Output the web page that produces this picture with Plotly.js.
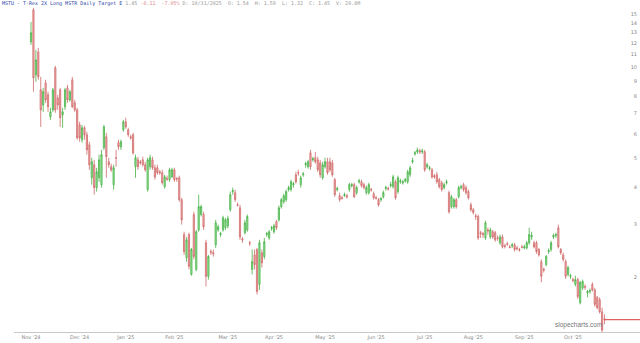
<!DOCTYPE html>
<html><head><meta charset="utf-8">
<script src="https://cdn.plot.ly/plotly-3.0.1.min.js"></script>
<style>html,body{margin:0;padding:0;background:#fff}#chart{width:640px;height:343px}</style>
</head><body><div id="chart"></div>
<script>
const opens=[12.12,15.48,9.42,11.23,8.40,7.49,8.86,8.09,6.84,7.21,
9.94,7.90,8.40,6.94,7.38,8.53,7.78,9.07,7.61,7.21,
6.43,5.74,6.29,5.96,5.52,4.29,4.74,3.98,4.29,4.07,
5.40,5.87,4.85,4.67,4.07,5.00,5.61,5.44,6.19,6.58,
6.19,5.87,5.96,4.67,4.92,4.85,4.92,4.74,3.92,4.67,
4.92,4.63,4.63,4.49,4.46,4.01,4.26,4.23,4.32,4.56,
4.26,4.29,3.63,2.78,2.33,2.78,2.05,3.24,2.13,2.88,
3.24,3.24,2.61,2.02,2.44,2.42,2.57,2.88,2.78,2.88,
2.93,2.97,3.36,3.86,3.83,3.49,3.41,2.69,2.82,2.88,
2.61,2.13,2.38,2.48,1.90,2.42,2.35,2.78,2.71,2.91,
2.84,3.07,3.11,3.44,3.57,3.63,3.92,3.92,4.07,4.39,
4.46,4.07,4.39,4.74,4.67,5.19,4.92,5.00,4.92,4.81,
4.29,4.67,4.85,4.85,4.81,4.23,3.92,3.74,3.68,3.74,
3.74,3.92,4.04,4.07,3.83,4.16,4.16,4.07,3.83,3.83,
3.92,3.80,3.68,3.63,3.63,3.71,3.95,3.95,4.04,4.01,
4.16,3.86,4.16,4.13,4.19,4.16,4.39,4.85,5.15,5.23,
5.27,5.23,5.23,4.67,4.60,4.56,4.36,4.39,4.23,4.13,
3.98,4.13,3.83,3.44,3.44,3.63,3.71,3.98,4.07,3.98,
3.86,3.49,3.36,3.21,3.19,2.82,2.80,2.71,2.88,2.73,
2.84,2.82,2.71,2.61,2.73,2.55,2.59,2.53,2.55,2.57,
2.51,2.48,2.53,2.51,2.51,2.61,2.73,2.61,2.61,2.48,
2.26,2.13,2.21,2.44,2.48,2.73,2.76,2.93,2.48,2.38,
2.26,2.05,2.02,1.97,1.90,1.97,1.65,1.85,1.87,1.78,
1.80,1.90,1.82,1.72,1.69,1.54,1.46];
const highs=[14.12,15.72,11.40,11.58,9.28,8.53,9.07,8.28,7.32,8.53,
10.09,8.09,8.53,7.32,8.53,8.73,8.40,9.28,7.78,7.32,
6.58,6.43,6.38,6.10,5.65,5.00,4.92,4.63,5.12,5.31,
6.43,6.05,5.00,4.78,4.74,5.31,5.74,5.74,6.68,6.79,
6.29,5.96,6.05,5.12,5.04,4.92,5.04,4.85,5.00,5.12,
5.04,4.74,4.74,4.56,4.56,4.39,4.36,4.63,4.63,4.63,
4.32,4.36,3.68,2.84,2.73,2.82,2.51,3.31,2.88,3.77,
3.49,3.31,2.67,2.38,2.48,2.48,3.11,3.00,2.84,3.21,
3.16,3.21,3.86,3.98,3.92,3.55,3.49,2.73,3.11,3.24,
2.65,2.48,2.48,2.51,2.67,2.48,2.71,2.84,2.88,2.97,
3.02,3.11,3.47,3.68,3.80,3.92,4.04,4.23,4.16,4.49,
4.56,4.36,4.49,4.85,4.92,5.31,5.04,5.23,5.04,4.92,
4.85,5.00,5.00,5.00,4.92,4.29,4.01,3.83,3.74,3.83,
3.80,4.13,4.13,4.13,4.04,4.26,4.23,4.13,4.04,4.13,
3.98,3.86,3.74,3.68,3.71,3.89,4.04,4.01,4.16,4.39,
4.23,4.36,4.26,4.23,4.29,4.56,4.70,5.00,5.27,5.40,
5.36,5.36,5.31,4.81,4.70,4.63,4.42,4.49,4.29,4.19,
4.13,4.23,3.89,3.77,3.68,3.68,4.04,4.07,4.13,4.04,
3.92,3.55,3.41,3.26,3.24,2.86,2.84,3.09,2.93,2.93,
2.88,2.86,2.76,2.78,2.78,2.59,2.63,2.57,2.61,2.61,
2.55,2.51,2.57,2.57,2.65,2.93,2.84,2.65,2.65,2.51,
2.30,2.16,2.38,2.50,2.65,2.80,2.82,3.00,2.51,2.42,
2.30,2.19,2.06,2.00,2.03,2.00,1.95,1.97,1.90,1.82,
1.84,1.93,1.85,1.74,1.72,1.59,1.51];
const lows=[11.85,8.28,8.93,9.07,6.33,7.10,7.61,7.10,6.68,7.10,
7.05,7.21,6.33,6.29,7.21,7.61,7.67,7.32,7.10,5.74,
5.65,5.61,5.74,5.12,4.56,4.07,3.77,3.86,4.16,3.98,
5.31,4.29,4.63,4.49,3.92,4.67,5.31,5.31,6.10,6.24,
5.87,5.74,5.12,4.29,4.56,4.74,4.67,4.49,3.86,4.56,
4.56,4.23,4.39,4.39,4.07,3.95,4.19,4.16,4.29,4.16,
4.16,3.57,3.00,2.38,2.26,2.13,2.03,2.30,2.10,2.84,
3.19,2.88,1.87,1.97,2.38,2.35,2.51,2.84,2.73,2.84,
2.88,2.91,3.31,3.77,3.57,3.44,2.67,2.61,2.78,2.84,
2.55,2.05,2.13,1.76,1.82,2.16,2.30,2.73,2.67,2.86,
2.80,2.88,3.07,3.39,3.52,3.57,3.86,3.86,3.98,4.10,
4.36,3.98,4.32,4.63,4.60,4.56,4.85,4.78,4.49,4.29,
4.23,4.60,4.39,4.49,4.32,3.71,3.86,3.57,3.63,3.71,
3.66,3.86,3.98,3.68,3.77,4.10,3.98,3.92,3.77,3.77,
3.86,3.63,3.63,3.44,3.57,3.66,3.89,3.89,3.98,3.95,
3.63,3.80,4.10,4.07,4.13,4.10,4.32,4.78,5.08,5.15,
5.15,5.15,4.49,4.60,4.53,4.26,4.26,4.10,3.95,3.86,
3.92,4.07,3.26,3.39,3.39,3.39,3.66,3.92,3.86,3.77,
3.63,3.31,3.24,3.11,2.67,2.71,2.71,2.67,2.78,2.69,
2.69,2.63,2.65,2.57,2.50,2.50,2.55,2.50,2.51,2.44,
2.46,2.44,2.50,2.48,2.48,2.57,2.67,2.50,2.40,2.35,
1.93,2.08,2.18,2.40,2.44,2.69,2.71,2.50,2.38,2.26,
1.98,2.02,1.98,1.93,1.87,1.70,1.63,1.82,1.82,1.72,
1.77,1.80,1.60,1.57,1.52,1.32,1.40];
const closes=[12.99,9.21,10.56,9.28,7.21,8.28,7.78,7.38,7.10,8.40,
7.21,7.49,6.79,7.10,8.40,7.78,8.28,7.38,7.21,5.82,
5.82,6.29,5.96,5.31,4.74,4.85,3.98,4.49,4.92,5.12,
6.33,5.04,4.74,4.56,4.63,4.99,5.44,5.65,6.58,6.33,
5.96,5.82,5.19,5.00,4.67,4.81,4.74,4.56,4.92,5.00,
4.63,4.32,4.46,4.46,4.13,4.32,4.25,4.56,4.56,4.23,
4.25,3.63,3.11,2.44,2.67,2.18,2.48,2.35,2.84,3.44,
3.44,2.95,2.02,2.35,2.43,2.40,3.04,2.95,2.80,3.16,
3.11,3.14,3.77,3.89,3.63,3.48,2.73,2.67,3.04,3.19,
2.60,2.26,2.21,1.80,2.61,2.24,2.63,2.80,2.84,2.93,
2.97,2.93,3.41,3.63,3.74,3.86,3.98,4.16,4.10,4.16,
4.45,4.29,4.42,4.78,4.85,4.67,4.96,4.85,4.56,4.39,
4.74,4.85,4.46,4.56,4.39,3.77,3.95,3.63,3.67,3.77,
3.71,4.07,4.07,3.71,3.98,4.19,4.04,3.98,3.98,4.07,
3.91,3.68,3.67,3.49,3.66,3.83,3.98,3.94,4.07,4.32,
3.68,4.29,4.19,4.16,4.23,4.49,4.63,4.89,5.19,5.31,
5.23,5.27,4.56,4.74,4.63,4.32,4.32,4.16,4.01,3.92,
4.07,4.16,3.31,3.71,3.63,3.44,3.98,4.01,3.92,3.83,
3.68,3.36,3.29,3.19,2.71,2.80,2.78,3.04,2.86,2.88,
2.73,2.67,2.70,2.73,2.53,2.54,2.58,2.52,2.57,2.48,
2.50,2.47,2.52,2.53,2.61,2.78,2.76,2.53,2.44,2.38,
2.02,2.12,2.35,2.46,2.61,2.76,2.78,2.53,2.42,2.30,
2.02,2.16,2.03,1.96,1.97,1.73,1.93,1.94,1.86,1.80,
1.81,1.82,1.63,1.59,1.54,1.34,1.45];
const monthLabels=["Nov '24","Dec '24","Jan '25","Feb '25","Mar '25","Apr '25","May '25","Jun '25","Jul '25","Aug '25","Sep '25","Oct '25"];
const monthLabelIdx=[0,20,39,59,81,100,121,142,162,182,203,223];
const yTickVals=[2,3,4,5,6,7,8,9,10,11,12,13,14,15];
const yTickText=["2","3","4","5","6","7","8","9","10","11","12","13","14","15"];
const titleName="MSTU - T-Rex 2X Long MSTR Daily Target E";
const titleLast="1.45";
const titleChange="-0.11  -7.05%";
const titleRest="D: 10/31/2025  O: 1.54  H: 1.59  L: 1.32  C: 1.45  V: 20.6M";

const idx=opens.map((_,i)=>i);
const last=closes.length-1;
const xMax=250.6;
const trace={
  type:'candlestick', x:idx, open:opens, high:highs, low:lows, close:closes,
  increasing:{line:{color:'#45b045',width:0.8},fillcolor:'#a3eca3'},
  decreasing:{line:{color:'#cf6a6a',width:0.8},fillcolor:'#f5b0b0'},
  whiskerwidth:0, hoverinfo:'skip', showlegend:false
};
const layout={
  width:640,height:343,
  margin:{l:14,r:0,t:5,b:11},
  paper_bgcolor:'#fff',plot_bgcolor:'#fff',
  showlegend:false,
  title:{text:'<span style="color:#2b3fa8">'+titleName+'</span> <span style="color:#999">'+titleLast+'</span> <span style="color:#e08a8a">'+titleChange+'</span> <span style="color:#999">'+titleRest+'</span>',
    x:0.003,xanchor:'left',y:0.997,yanchor:'top',font:{family:'DejaVu Sans Mono',size:5,color:'#999'}},
  xaxis:{type:'linear',range:[-7,xMax],showgrid:false,zeroline:false,showline:true,linecolor:'#c8c8c8',linewidth:1,
    tickmode:'array',tickvals:monthLabelIdx,ticktext:monthLabels,ticks:'',
    tickfont:{family:'DejaVu Sans',size:5,color:'#888'},rangeslider:{visible:false},fixedrange:true},
  yaxis:{type:'log',range:[Math.log10(1.32),Math.log10(16.07)],side:'right',ticklabelposition:'inside',
    showgrid:false,zeroline:false,showline:false,tickmode:'array',tickvals:yTickVals,ticktext:yTickText,ticks:'',
    tickfont:{family:'DejaVu Sans',size:5,color:'#888'},fixedrange:true},
  shapes:[{type:'line',xref:'x',yref:'y',x0:last,x1:xMax,y0:closes[last],y1:closes[last],line:{color:'#e06060',width:1.3}}],
  annotations:[{text:'slopecharts.com',xref:'paper',yref:'paper',x:0.943,y:0.004,xanchor:'right',yanchor:'bottom',
    showarrow:false,font:{family:'Liberation Sans',size:6.5,color:'#777'}}]
};
Plotly.newPlot('chart',[trace],layout,{displayModeBar:false,staticPlot:true});
</script></body></html>
